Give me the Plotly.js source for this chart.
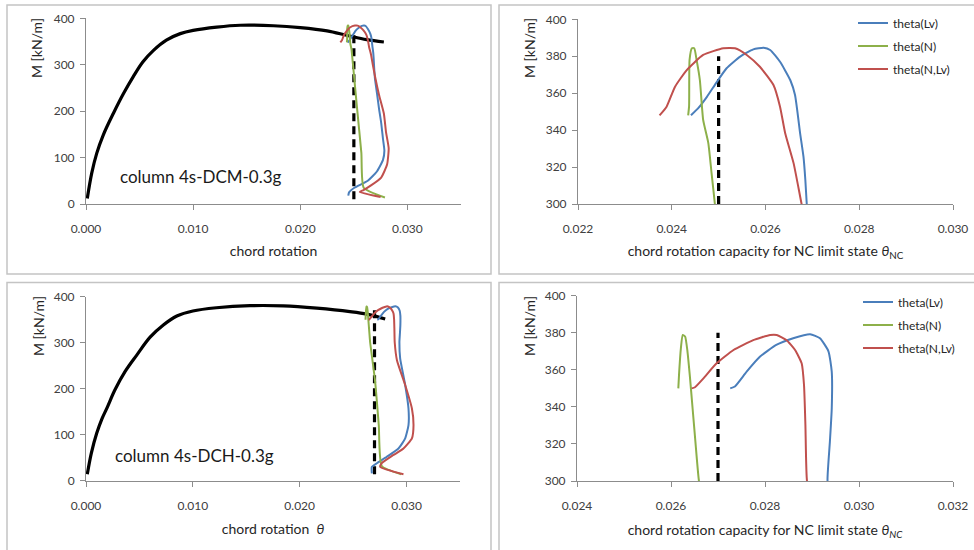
<!DOCTYPE html>
<html>
<head>
<meta charset="utf-8">
<script src="https://cdn.plot.ly/plotly-3.0.1.min.js"></script>
<style>html,body{margin:0;padding:0;background:#fff;}#chart{width:974px;height:550px;}</style>
</head>
<body>
<div id="chart"></div>
<script>
// ---------- DATA: top row (column 4s-DCM-0.3g) ----------
const curveTopX = [0.00012,0.00053,0.0010,0.0016,0.00255,0.0035,0.0044,0.0053,0.0063,0.0075,0.0088,0.0100,0.0122,0.0144,0.0175,0.0200,0.0225,0.0244,0.0262,0.0278];
const curveTopM = [12,66,109,148,195,238,274,306,331,353,367,374,381,385,384,380,373,363,354,349];

const lvTopX = [0.02441,0.02457,0.02475,0.02496,0.02517,0.02546,0.02574,0.02596,0.02610,0.02631,0.02653,0.02663,0.02674,0.02681,0.02685,0.02688,0.02697,0.02715,0.02735,0.02755,0.02772,0.02785,0.02772,0.02715,0.02630,0.02505,0.02455,0.02448];
const lvTopM = [348,352,358,366,373.5,379.8,383.7,384.6,383.4,377,367,359,338,325.6,313,300,270,240,205,175,140,115,95,70,50,35,25,18];

const nTopX = [0.02435,0.02437,0.02438,0.02443,0.02448,0.02453,0.02460,0.02467,0.02478,0.02485,0.02492,0.02530,0.02570,0.02592,0.02790];
const nTopM = [348,353,378,384.3,384.3,378,367,345.5,333,316.6,300,206,110,35,14];

const nlvTopX = [0.02374,0.02389,0.02407,0.02432,0.02467,0.02510,0.02535,0.02560,0.02588,0.02617,0.02631,0.02642,0.02660,0.02677,0.02700,0.02735,0.02780,0.02800,0.02825,0.02810,0.02755,0.02660,0.02590,0.02555,0.02750];
const nlvTopM = [348,352.7,363.5,372.5,380.7,384.3,384.3,380.7,374.3,364.4,352.7,338.3,322,300,272,235,195,155,120,85,57,40,30,26,15];

const limitTopX = [0.025,0.025];
const limitTopM1 = [10,365];
const limitTopM2 = [300,380];

// ---------- DATA: bottom row (column 4s-DCH-0.3g) ----------
const curveBotX = [0.00012,0.0005,0.0010,0.0015,0.0020,0.0027,0.00365,0.00475,0.0060,0.00724,0.0085,0.0100,0.0122,0.01535,0.01847,0.0216,0.0247,0.02628,0.0280];
const curveBotM = [14,60,103,135,160,197,237,273,312,338.5,358,369,376,380.5,380,375,367.5,362,351.5];

const lvBotX = [0.02726,0.02736,0.02761,0.02789,0.02824,0.02860,0.02896,0.02917,0.02935,0.02942,0.02942,0.02938,0.02933,0.02940,0.02987,0.03018,0.03018,0.02987,0.02924,0.02815,0.02722,0.02675,0.02675];
const lvBotM = [350,351,359,367,373.4,377,379.2,377,370,359,339,321,301,266,208,157,121,92,70,52,38,30,16];

const nBotX = [0.026156,0.02617,0.02621,0.02625,0.02630,0.02635,0.02640,0.02646,0.02652,0.02659,0.02706,0.02740,0.02768,0.02950];
const nBotM = [350,357,371.6,378.8,378,370,357,339,321,301,215,120,32,14];

const nlvBotX = [0.02644,0.02651,0.02669,0.02697,0.02733,0.02775,0.02811,0.02825,0.02846,0.02864,0.02878,0.02883,0.02886,0.02889,0.02910,0.02987,0.03050,0.03065,0.03050,0.02971,0.02878,0.02768,0.02753,0.02971];
const nlvBotM = [350,350.6,355.4,363.5,370.7,376,378.8,378.8,376,370.7,363.5,351.8,330,301,262,208,157,121,92,70,56,38,30,14];

const limitBotX = [0.027,0.027];
const limitBotM3 = [14,378];
const limitBotM4 = [300,380];

const seriesNames = ['theta(Lv)','theta(N)','theta(N,Lv)'];

// ---------- STYLE ----------
const FONT = 'Lato, "Open Sans", sans-serif';
const C_LV = '#4a7ebb', C_N = '#8db04a', C_NLV = '#c0504d';
const W = 974, H = 550;
const px = v => v / W;
const py = v => 1 - v / H;

function line(x, y, xa, ya, color, width, name, legend, show, dash, smooth) {
  return {x: x, y: y, xaxis: xa, yaxis: ya, type: 'scatter', mode: 'lines',
    line: {color: color, width: width, dash: dash || 'solid', shape: 'spline', smoothing: smooth || 0.5},
    name: name || ' ', showlegend: !!show, legend: legend || 'legend',
    legendgroup: (name || '') + (legend || ''), hoverinfo: 'skip'};
}

const data = [
  // panel 1
  line(curveTopX, curveTopM, 'x', 'y', '#000', 3.2, '', '', false, 'solid', 1),
  line(limitTopX, limitTopM1, 'x', 'y', '#000', 3.2, '', '', false, '8px,5px'),
  line(lvTopX, lvTopM, 'x', 'y', C_LV, 2),
  line(nTopX, nTopM, 'x', 'y', C_N, 2),
  line(nlvTopX, nlvTopM, 'x', 'y', C_NLV, 2),
  // panel 2
  line(limitTopX, limitTopM2, 'x2', 'y2', '#000', 3.2, '', '', false, '8px,5px'),
  line(lvTopX, lvTopM, 'x2', 'y2', C_LV, 2, seriesNames[0], 'legend', true),
  line(nTopX, nTopM, 'x2', 'y2', C_N, 2, seriesNames[1], 'legend', true),
  line(nlvTopX, nlvTopM, 'x2', 'y2', C_NLV, 2, seriesNames[2], 'legend', true),
  // panel 3
  line(curveBotX, curveBotM, 'x3', 'y3', '#000', 3.2, '', '', false, 'solid', 1),
  line(limitBotX, limitBotM3, 'x3', 'y3', '#000', 3.2, '', '', false, '8px,5px'),
  line(lvBotX, lvBotM, 'x3', 'y3', C_LV, 2),
  line(nBotX, nBotM, 'x3', 'y3', C_N, 2),
  line(nlvBotX, nlvBotM, 'x3', 'y3', C_NLV, 2),
  // panel 4
  line(limitBotX, limitBotM4, 'x4', 'y4', '#000', 3.2, '', '', false, '8px,5px'),
  line(lvBotX, lvBotM, 'x4', 'y4', C_LV, 2, seriesNames[0], 'legend2', true),
  line(nBotX, nBotM, 'x4', 'y4', C_N, 2, seriesNames[1], 'legend2', true),
  line(nlvBotX, nlvBotM, 'x4', 'y4', C_NLV, 2, seriesNames[2], 'legend2', true)
];

const axBase = {showgrid: false, zeroline: false, showline: true, linecolor: '#8c8c8c', linewidth: 1,
  ticks: 'outside', ticklen: 5, tickcolor: '#8c8c8c', fixedrange: true,
  tickfont: {family: FONT, size: 12, color: '#404040'}};
const titleFont = {family: FONT, size: 14, color: '#262626'};

function xa(domain, range, dtick, anchor, title, standoff) {
  return Object.assign({}, axBase, {domain: domain, range: range, dtick: dtick, tick0: 0,
    tickformat: '.3f', anchor: anchor, ticklabelstandoff: 9,
    title: {text: title, font: titleFont, standoff: standoff}});
}
function ya(domain, range, dtick, anchor) {
  return Object.assign({}, axBase, {domain: domain, range: range, dtick: dtick, anchor: anchor, ticklabelstandoff: 3});
}

const thetaNC1 = 'chord rotation capacity for NC limit state <i>θ</i><sub>NC</sub>';
const thetaNC2 = 'chord rotation capacity for NC limit state <i>θ</i><sub><i>NC</i></sub>';

function note(text, x, y, angle, font) {
  return {text: text, xref: 'paper', yref: 'paper', x: px(x), y: py(y), xanchor: 'center', yanchor: 'middle',
    textangle: angle, showarrow: false, font: font};
}

const layout = {
  width: W, height: H, margin: {l: 0, r: 0, t: 0, b: 0},
  paper_bgcolor: '#fff', plot_bgcolor: 'rgba(0,0,0,0)',
  font: {family: FONT, color: '#262626'},
  xaxis: xa([px(86), px(461)], [0, 0.035], 0.01, 'y', 'chord rotation', 10),
  yaxis: ya([py(204), py(18.3)], [0, 400], 100, 'x'),
  xaxis2: xa([px(578), px(953)], [0.022, 0.030], 0.002, 'y2', thetaNC1, 10),
  yaxis2: ya([py(204), py(19.3)], [300, 400], 20, 'x2'),
  xaxis3: xa([px(86), px(460)], [0, 0.035], 0.01, 'y3', 'chord rotation  <i>θ</i>', 12),
  yaxis3: ya([py(480.7), py(296.7)], [0, 400], 100, 'x3'),
  xaxis4: xa([px(577), px(953)], [0.024, 0.032], 0.002, 'y4', thetaNC2, 12),
  yaxis4: ya([py(481), py(295.7)], [300, 400], 20, 'x4'),
  legend: {x: px(853), y: py(8.5), xanchor: 'left', yanchor: 'top', bgcolor: 'rgba(0,0,0,0)',
    font: {family: FONT, size: 12, color: '#262626'}, tracegroupgap: 4, itemwidth: 30},
  legend2: {x: px(858), y: py(287.5), xanchor: 'left', yanchor: 'top', bgcolor: 'rgba(0,0,0,0)',
    font: {family: FONT, size: 12, color: '#262626'}, tracegroupgap: 4, itemwidth: 30},
  shapes: [
    {type: 'rect', xref: 'paper', yref: 'paper', x0: px(7), x1: px(491), y0: py(274), y1: py(5), line: {color: '#c4c4c4', width: 1.5}},
    {type: 'rect', xref: 'paper', yref: 'paper', x0: px(499), x1: px(990), y0: py(274), y1: py(5), line: {color: '#c4c4c4', width: 1.5}},
    {type: 'rect', xref: 'paper', yref: 'paper', x0: px(7), x1: px(491), y0: py(570), y1: py(282.5), line: {color: '#c4c4c4', width: 1.5}},
    {type: 'rect', xref: 'paper', yref: 'paper', x0: px(499), x1: px(990), y0: py(570), y1: py(282.5), line: {color: '#c4c4c4', width: 1.5}}
  ],
  annotations: [
    note('M [kN/m]', 36, 48, -90, titleFont),
    note('M [kN/m]', 529, 48, -90, titleFont),
    note('M [kN/m]', 38, 326, -90, titleFont),
    note('M [kN/m]', 529, 326, -90, titleFont),
    note('column 4s-DCM-0.3g', 201, 176, 0, {family: FONT, size: 17, color: '#1a1a1a'}),
    note('column 4s-DCH-0.3g', 194, 455, 0, {family: FONT, size: 17, color: '#1a1a1a'})
  ]
};

Plotly.newPlot('chart', data, layout, {displayModeBar: false, staticPlot: true});
</script>
</body>
</html>
